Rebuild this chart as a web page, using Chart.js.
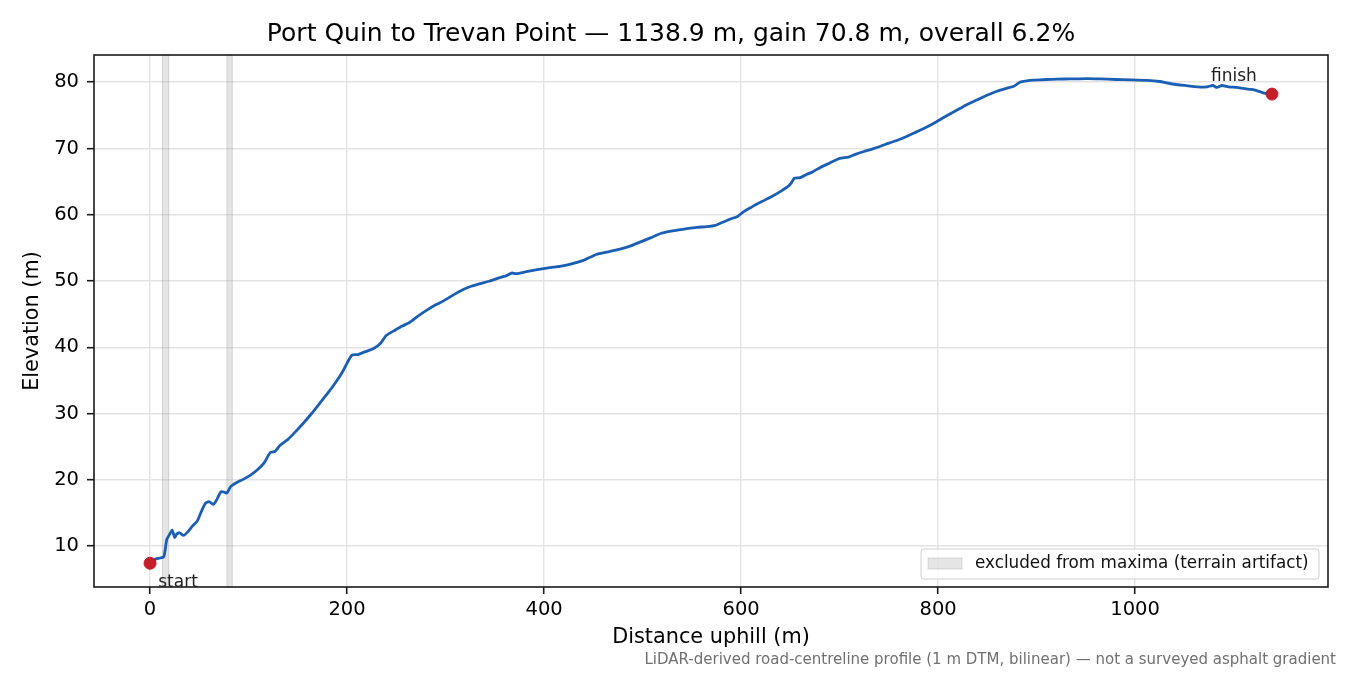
<!DOCTYPE html>
<html>
<head>
<meta charset="utf-8">
<script src="https://cdn.jsdelivr.net/npm/chart.js@4.4.1/dist/chart.umd.min.js"></script>
<style>
  html, body { margin: 0; padding: 0; background: #fff; }
  #wrap { width: 1350px; height: 675px; }
</style>
</head>
<body>
<div id="wrap"><canvas id="profileChart" width="1350" height="675"></canvas></div>
<script>
// distance along the road (m) and elevation (m)
const distance = [0, 5, 10, 14, 17, 20, 22.5, 25, 27, 30, 34, 38, 43, 48, 52, 56, 60, 64, 67, 72, 76, 78, 82, 88, 95,
    102, 109, 116, 122, 127, 132, 140, 148, 156, 164, 172, 180, 188, 195, 200, 205, 211, 218, 227, 234, 240, 249,
    256, 264, 272, 281, 290, 298, 308, 318, 326, 335, 345, 355, 362, 367, 372, 382, 393, 406, 416, 426, 440, 453,
    465, 477, 488, 498, 508, 519, 532, 545, 555, 565, 574, 582, 590, 596, 602, 609, 616, 624, 633, 641, 648, 651,
    654, 660, 667, 673, 680, 690, 700, 709, 716, 724, 733, 741, 750, 758, 768, 778, 788, 798, 806, 817, 829, 839,
    849, 859, 870, 877, 883, 890, 897, 910, 921, 935, 951, 965, 980, 995, 1012, 1025, 1035, 1050, 1066, 1073,
    1079, 1083, 1088, 1095, 1103, 1110, 1118, 1124, 1130, 1138.9];
const elevation = [7.4, 8.0, 8.2, 8.4, 11.0, 11.8, 12.4, 11.3, 11.8, 12.0, 11.6, 12.1, 13.0, 13.8, 15.2, 16.4, 16.7,
    16.3, 16.8, 18.2, 18.1, 18.0, 19.0, 19.6, 20.1, 20.7, 21.5, 22.6, 24.1, 24.3, 25.2, 26.1, 27.3, 28.6, 30.0,
    31.5, 33.0, 34.6, 36.2, 37.6, 38.8, 38.9, 39.3, 39.8, 40.6, 41.8, 42.6, 43.2, 43.8, 44.7, 45.6, 46.4, 47.0,
    47.9, 48.7, 49.2, 49.6, 50.0, 50.5, 50.8, 51.2, 51.1, 51.4, 51.7, 52.0, 52.2, 52.5, 53.1, 54.0, 54.4, 54.8,
    55.3, 55.9, 56.5, 57.2, 57.6, 57.9, 58.1, 58.2, 58.4, 58.9, 59.4, 59.7, 60.4, 61.0, 61.6, 62.2, 62.9, 63.6,
    64.3, 64.8, 65.5, 65.6, 66.1, 66.5, 67.1, 67.8, 68.5, 68.7, 69.1, 69.5, 69.9, 70.3, 70.8, 71.2, 71.8, 72.5,
    73.2, 74.0, 74.7, 75.6, 76.6, 77.3, 78.0, 78.6, 79.1, 79.4, 80.0, 80.2, 80.3, 80.4, 80.45, 80.5, 80.55, 80.5,
    80.4, 80.35, 80.27, 80.1, 79.8, 79.5, 79.25, 79.3, 79.5, 79.2, 79.5, 79.3, 79.2, 79.05, 78.9, 78.7, 78.4, 78.2];

// stretches left out of the maxima (m along the road)
const excludedBands = [[12.5, 19], [78, 83.5]];

const endLabels = ['start', 'finish'];
const xTicks = [0, 200, 400, 600, 800, 1000];
const yTicks = [10, 20, 30, 40, 50, 60, 70, 80];

const FONT = 'DejaVu Sans';
const BAND_FILL = 'rgba(150,150,150,0.25)';
const BAND_EDGE = 'rgba(140,140,140,0.3)';

const profile = distance.map((d, i) => ({ x: d, y: elevation[i] }));
const last = distance.length - 1;
const ends = [
    { x: distance[0], y: elevation[0] },
    { x: distance[last], y: elevation[last] }
];

const bandsPlugin = {
    id: 'bands',
    beforeDatasetsDraw(chart) {
        const { ctx, chartArea, scales: { x } } = chart;
        ctx.save();
        excludedBands.forEach(([a, b]) => {
            const x0 = x.getPixelForValue(a), x1 = x.getPixelForValue(b);
            ctx.fillStyle = BAND_FILL;
            ctx.fillRect(x0, chartArea.top, x1 - x0, chartArea.bottom - chartArea.top);
            ctx.strokeStyle = BAND_EDGE;
            ctx.lineWidth = 1;
            ctx.strokeRect(x0, chartArea.top, x1 - x0, chartArea.bottom - chartArea.top);
        });
        ctx.restore();
    }
};

const extrasPlugin = {
    id: 'extras',
    afterDraw(chart) {
        const { ctx, chartArea, scales: { x, y } } = chart;
        ctx.save();
        // frame
        ctx.strokeStyle = '#1a1a1a';
        ctx.lineWidth = 1.6;
        ctx.strokeRect(chartArea.left, chartArea.top, chartArea.right - chartArea.left, chartArea.bottom - chartArea.top);

        // start / finish labels
        ctx.fillStyle = '#222';
        ctx.font = '17px "' + FONT + '"';
        ctx.textAlign = 'center';
        ctx.textBaseline = 'middle';
        ctx.fillText(endLabels[0], x.getPixelForValue(ends[0].x) + 28, y.getPixelForValue(ends[0].y) + 19);
        ctx.fillText(endLabels[1], x.getPixelForValue(ends[1].x) - 38, y.getPixelForValue(ends[1].y) - 18);

        // legend
        const bw = 398, bh = 30;
        const bx = chartArea.right - 9 - bw, by = chartArea.bottom - 8 - bh;
        ctx.fillStyle = 'rgba(255,255,255,0.8)';
        ctx.strokeStyle = '#d0d0d0';
        ctx.lineWidth = 1;
        ctx.beginPath();
        ctx.roundRect(bx, by, bw, bh, 3);
        ctx.fill();
        ctx.stroke();
        ctx.fillStyle = BAND_FILL;
        ctx.fillRect(bx + 7, by + 9, 34, 11);
        ctx.strokeStyle = BAND_EDGE;
        ctx.strokeRect(bx + 7, by + 9, 34, 11);
        ctx.fillStyle = '#111';
        ctx.textAlign = 'left';
        ctx.font = '16.8px "' + FONT + '"';
        ctx.fillText('excluded from maxima (terrain artifact)', bx + 54, by + 15);

        // footnote
        ctx.fillStyle = '#707070';
        ctx.font = '15px "' + FONT + '"';
        ctx.textAlign = 'right';
        ctx.fillText('LiDAR-derived road-centreline profile (1 m DTM, bilinear) \u2014 not a surveyed asphalt gradient', 1336, 660);
        ctx.restore();
    }
};

const ctx = document.getElementById('profileChart').getContext('2d');
new Chart(ctx, {
    type: 'scatter',
    data: {
        datasets: [{
            label: 'ends',
            data: ends,
            backgroundColor: '#c41e2a',
            borderColor: '#c41e2a',
            pointRadius: 6,
            pointHoverRadius: 6,
            showLine: false
        }, {
            label: 'profile',
            data: profile,
            borderColor: '#1b5fb5',
            borderWidth: 2.8,
            pointRadius: 0,
            showLine: true,
            tension: 0.2,
            fill: false
        }]
    },
    options: {
        responsive: false,
        animation: false,
        devicePixelRatio: 1,
        layout: { padding: { left: 14, right: 22, top: 0, bottom: 25 } },
        plugins: {
            legend: { display: false },
            tooltip: { enabled: false },
            title: {
                display: true,
                text: 'Port Quin to Trevan Point \u2014 1138.9 m, gain 70.8 m, overall 6.2%',
                color: '#000',
                font: { family: FONT, size: 25, weight: 'normal' },
                padding: { top: 19, bottom: 6 }
            }
        },
        scales: {
            x: {
                type: 'linear',
                min: -56.9,
                max: 1195.8,
                afterBuildTicks: (s) => { s.ticks = xTicks.map(v => ({ value: v })); },
                afterFit: (s) => { s.height = 63; },
                grid: { color: '#e3e3e3', lineWidth: 1.4, tickColor: '#1a1a1a', tickLength: 7, tickWidth: 1.6 },
                border: { display: false },
                ticks: {
                    color: '#000', font: { family: FONT, size: 19.5 }, padding: 4, maxRotation: 0,
                    callback: (v) => String(v)
                },
                title: {
                    display: true, text: 'Distance uphill (m)', color: '#000',
                    font: { family: FONT, size: 20.8 }, padding: { top: 0, bottom: 0 }
                }
            },
            y: {
                type: 'linear',
                min: 3.82,
                max: 84.1,
                afterBuildTicks: (s) => { s.ticks = yTicks.map(v => ({ value: v })); },
                afterFit: (s) => { s.width = 80; },
                grid: { color: '#e3e3e3', lineWidth: 1.4, tickColor: '#1a1a1a', tickLength: 7, tickWidth: 1.6 },
                border: { display: false },
                ticks: {
                    color: '#000', font: { family: FONT, size: 19.5 }, padding: 8,
                    callback: (v) => String(v)
                },
                title: {
                    display: true, text: 'Elevation (m)', color: '#000',
                    font: { family: FONT, size: 20.8 }, padding: { top: 6.5, bottom: 0 }
                }
            }
        }
    },
    plugins: [bandsPlugin, extrasPlugin]
});
</script>
</body>
</html>
